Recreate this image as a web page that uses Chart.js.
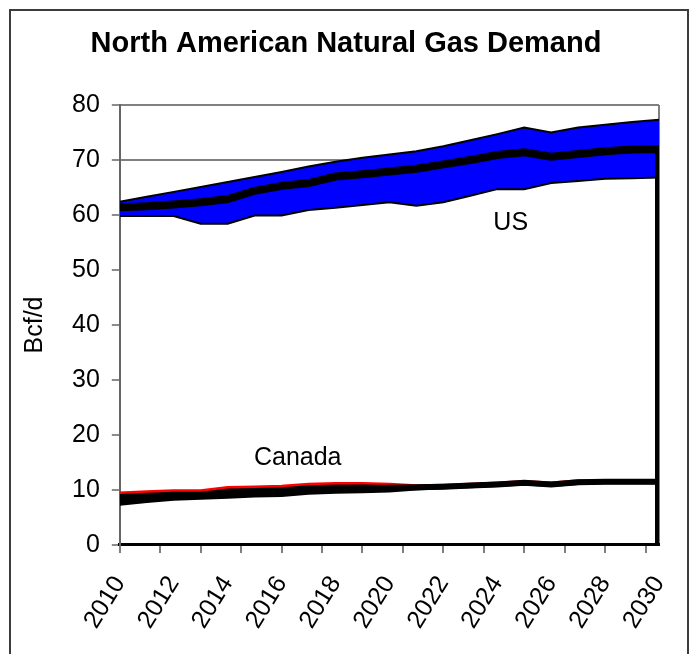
<!DOCTYPE html>
<html>
<head>
<meta charset="utf-8">
<script src="https://cdn.jsdelivr.net/npm/chart.js@4.4.1/dist/chart.umd.min.js"></script>
<style>
  html, body { margin: 0; padding: 0; background: #fff; overflow: hidden; }
  #frame { position: absolute; left: 9px; top: 9px; width: 676px; height: 700px; border: 2px solid #3c3c3c; }
  #wrap { position: absolute; left: 0; top: 0; width: 703px; height: 654px; }
</style>
</head>
<body>
<div id="frame"></div>
<div id="wrap"><canvas id="chart"></canvas></div>
<script>
const years = [2010, 2011, 2012, 2013, 2014, 2015, 2016, 2017, 2018, 2019, 2020,
               2021, 2022, 2023, 2024, 2025, 2026, 2027, 2028, 2029, 2030];
const xLabelYears = [2010, 2012, 2014, 2016, 2018, 2020, 2022, 2024, 2026, 2028, 2030];

// US demand range (Bcf/d)
const usHigh = [62.4, 63.3, 64.2, 65.1, 66.0, 66.9, 67.8, 68.8, 69.7, 70.4, 71.0,
                71.6, 72.5, 73.6, 74.7, 75.9, 75.0, 75.9, 76.4, 76.9, 77.3];
const usLow  = [59.8, 59.8, 59.8, 58.4, 58.4, 59.9, 59.9, 60.9, 61.3, 61.8, 62.3,
                61.7, 62.3, 63.5, 64.7, 64.7, 65.8, 66.2, 66.6, 66.7, 66.8];
const usBase = [61.4, 61.6, 61.9, 62.3, 62.9, 64.4, 65.3, 65.8, 67.0, 67.4, 67.9,
                68.4, 69.2, 70.0, 70.9, 71.4, 70.6, 71.1, 71.6, 71.9, 72.0];
const usBaseEnd = 0; // base line drops to the axis after the last year

// Canada demand range (Bcf/d)
const caHigh = [9.5, 9.7, 9.9, 9.9, 10.5, 10.6, 10.7, 11.1, 11.2, 11.2, 11.1,
                10.8, 10.9, 11.1, 11.3, 11.6, 11.3, 11.7, 11.7, 11.7, 11.7];
const caLow  = [7.3, 7.8, 8.2, 8.4, 8.6, 8.8, 8.9, 9.3, 9.5, 9.6, 9.7,
                10.1, 10.3, 10.5, 10.7, 11.0, 10.7, 11.1, 11.2, 11.2, 11.2];
const caBase = [8.4, 8.7, 9.0, 9.1, 9.5, 9.7, 9.8, 10.2, 10.3, 10.4, 10.4,
                10.5, 10.6, 10.8, 11.0, 11.3, 11.0, 11.4, 11.5, 11.5, 11.5];

const seriesNotes = [
  { text: 'US', x: 2024.5, y: 58.5 },
  { text: 'Canada', x: 2016.6, y: 15.8 }
];

const pts = vals => years.map((yr, i) => ({ x: yr, y: vals[i] }));
const usBasePts = pts(usBase).concat([{ x: years[years.length - 1], y: usBaseEnd }]);

Chart.defaults.font.family = '"Liberation Sans", Arial, sans-serif';
Chart.defaults.color = '#000';

// draws the US / Canada captions
const notesPlugin = {
  id: 'notes',
  afterDatasetsDraw(chart) {
    const { ctx, scales } = chart;
    ctx.save();
    ctx.font = '25px "Liberation Sans", Arial, sans-serif';
    ctx.fillStyle = '#000';
    ctx.textAlign = 'center';
    ctx.textBaseline = 'middle';
    seriesNotes.forEach(n => {
      ctx.fillText(n.text, scales.x.getPixelForValue(n.x), scales.y.getPixelForValue(n.y));
    });
    ctx.restore();
  }
};

const line = (vals, color, width, order, extra) => Object.assign({
  data: typeof vals[0] === 'number' ? pts(vals) : vals,
  borderColor: color,
  borderWidth: width,
  pointRadius: 0,
  tension: 0,
  fill: false,
  order: order
}, extra || {});

new Chart(document.getElementById('chart'), {
  type: 'line',
  data: {
    datasets: [
      line(usHigh, '#000', 2, 5, { fill: 1, backgroundColor: '#0000ff' }),
      line(usLow, '#000', 2, 4),
      line(usBasePts, '#000', 8, 1),
      line(caHigh, '#ff0000', 2.5, 3, { fill: 4, backgroundColor: '#000' }),
      line(caLow, '#000', 2, 4),
      line(caBase, '#000', 6, 2)
    ]
  },
  options: {
    responsive: true,
    maintainAspectRatio: false,
    animation: false,
    layout: { padding: { left: 33, right: 44, top: 4, bottom: 2 } },
    plugins: {
      legend: { display: false },
      tooltip: { enabled: false },
      title: {
        display: true,
        text: 'North American Natural Gas Demand',
        font: { size: 29, weight: 'bold' },
        color: '#000',
        padding: { top: 22.6, bottom: 43.6 }
      }
    },
    scales: {
      x: {
        type: 'linear',
        min: 2010,
        max: 2030,
        border: { color: '#000', width: 3 },
        grid: {
          color: c => (c.tick && c.tick.value === 2030 ? '#808080' : 'transparent'),
          lineWidth: 2,
          tickLength: 8,
          tickColor: c => {
            const r = ((c.tick.value - 2010) / 1.5);
            return Math.abs(r - Math.round(r)) < 1e-6 ? '#555' : 'transparent';
          },
          tickWidth: 1.5
        },
        ticks: {
          stepSize: 0.5,
          autoSkip: false,
          minRotation: 58,
          maxRotation: 58,
          padding: 18,
          font: { size: 25 },
          color: '#000',
          callback: v => (xLabelYears.includes(v) ? String(v) : '')
        }
      },
      y: {
        min: 0,
        max: 80,
        border: { color: '#666', width: 2 },
        grid: {
          color: c => (c.tick && (c.tick.value === 70 || c.tick.value === 80) ? '#808080' : 'transparent'),
          lineWidth: 2,
          tickLength: 8,
          tickColor: '#666',
          tickWidth: 1.5
        },
        ticks: { stepSize: 10, padding: 12, font: { size: 25 }, color: '#000' },
        title: { display: true, text: 'Bcf/d', font: { size: 25 }, color: '#000', padding: { top: -13, bottom: 10 } }
      }
    }
  },
  plugins: [notesPlugin]
});
</script>
</body>
</html>
